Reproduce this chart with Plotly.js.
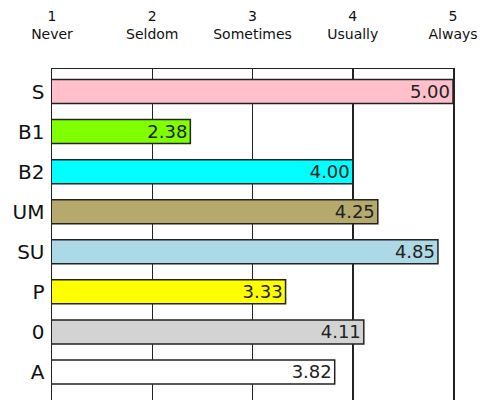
<!DOCTYPE html>
<html>
<head>
<meta charset="utf-8">
<script src="https://cdn.plot.ly/plotly-3.0.1.min.js"></script>
<style>html,body{margin:0;padding:0;background:#fff;}#chart{width:495px;height:400px;}</style>
</head>
<body>
<div id="chart"></div>
<script>
const categories = ["S", "B1", "B2", "UM", "SU", "P", "0", "A"];
const values = [5.00, 2.38, 4.00, 4.25, 4.85, 3.33, 4.11, 3.82];
const barColors = ["#FFC0CB", "#80FF00", "#00FFFF", "#B5AA6B", "#ADD8E6", "#FFFF00", "#D3D3D3", "#FFFFFF"];
const tickValues = [1, 2, 3, 4, 5];
const tickLabels = ["1<br>Never", "2<br>Seldom", "3<br>Sometimes", "4<br>Usually", "5<br>Always"];

const fam = "DejaVu Sans, Verdana, sans-serif";

const trace = {
  type: "bar",
  orientation: "h",
  y: categories,
  x: values,
  width: 0.6,
  marker: { color: barColors, line: { color: "#222", width: 1.5 } },
  text: values.map(v => v.toFixed(2)),
  textposition: "inside",
  insidetextanchor: "end",
  constraintext: "none",
  textfont: { family: fam, size: 18, color: "#222" },
  hoverinfo: "none"
};

const layout = {
  width: 495, height: 400,
  margin: { l: 52, r: 42, t: 69, b: 0 },
  paper_bgcolor: "#fff", plot_bgcolor: "#fff",
  showlegend: false,
  font: { family: fam, color: "#111" },
  xaxis: {
    side: "top",
    range: [1, 5],
    tickvals: tickValues,
    ticktext: tickLabels,
    tickfont: { family: fam, size: 14, color: "#111" },
    ticks: "",
    showgrid: true, gridcolor: "#222", gridwidth: 1.5,
    zeroline: false,
    showline: true, linecolor: "#222", linewidth: 1.5, mirror: true,
    ticklabelstandoff: 23,
    fixedrange: true
  },
  yaxis: {
    type: "category",
    range: [7.7, -0.5625],
    tickfont: { family: fam, size: 20, color: "#111" },
    ticks: "",
    showgrid: false,
    showline: true, linecolor: "#222", linewidth: 1.5, mirror: true,
    ticklabelstandoff: 2,
    fixedrange: true
  }
};

Plotly.newPlot("chart", [trace], layout, { staticPlot: true, displayModeBar: false });
</script>
</body>
</html>
